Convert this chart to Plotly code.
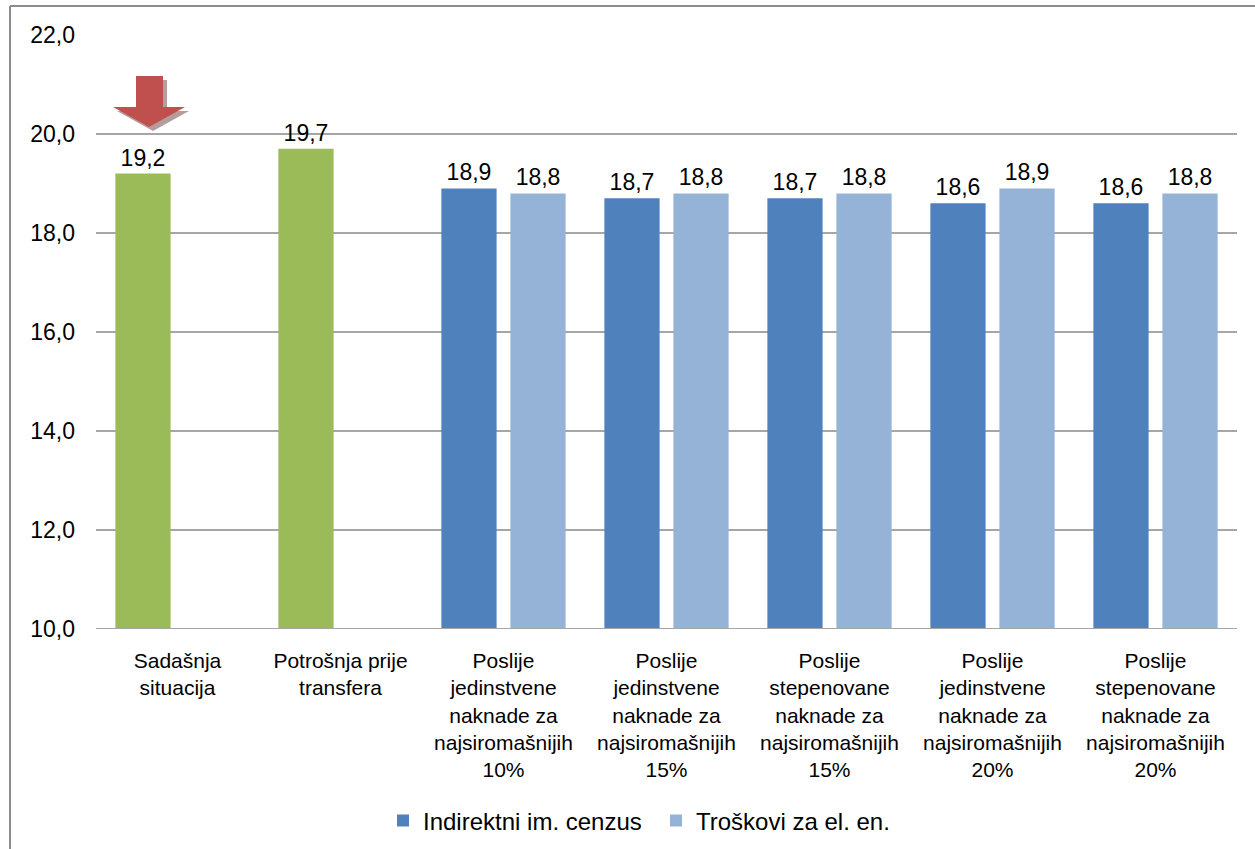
import plotly.graph_objects as go

# Chart data
categories = [
    "Sadašnja<br>situacija",
    "Potrošnja prije<br>transfera",
    "Poslije<br>jedinstvene<br>naknade za<br>najsiromašnijih<br>10%",
    "Poslije<br>jedinstvene<br>naknade za<br>najsiromašnijih<br>15%",
    "Poslije<br>stepenovane<br>naknade za<br>najsiromašnijih<br>15%",
    "Poslije<br>jedinstvene<br>naknade za<br>najsiromašnijih<br>20%",
    "Poslije<br>stepenovane<br>naknade za<br>najsiromašnijih<br>20%",
]
baseline_cats = categories[:2]
baseline_vals = [19.2, 19.7]
scenario_cats = categories[2:]
indirektni = [18.9, 18.7, 18.7, 18.6, 18.6]
troskovi = [18.8, 18.8, 18.8, 18.9, 18.8]
y_ticks = [10, 12, 14, 16, 18, 20, 22]

GREEN = "#9bbb59"
DARK_BLUE = "#4f81bd"
LIGHT_BLUE = "#95b3d7"
RED = "#c0504d"

W, H = 1255, 849
L, R, T, B = 96, 18, 35, 220
PW, PH = W - L - R, H - T - B

def px(x):
    return (x - L) / PW

def py(y):
    return (H - B - y) / PH

font = "Liberation Sans, Arial, sans-serif"
label_font = dict(size=23, color="#000000", family=font)

fig = go.Figure()
# Reference situations share the first bar slot, drawn in green
fig.add_trace(go.Bar(
    name="baseline", x=baseline_cats, y=baseline_vals, offsetgroup="a",
    marker=dict(color=GREEN, line=dict(width=0)), showlegend=False,
    texttemplate="%{y:.1f}", textposition="outside", textfont=label_font,
    cliponaxis=False,
))
fig.add_trace(go.Bar(
    name="Indirektni im. cenzus", x=scenario_cats, y=indirektni, offsetgroup="a",
    marker=dict(color=DARK_BLUE, line=dict(width=0)),
    texttemplate="%{y:.1f}", textposition="outside", textfont=label_font,
    cliponaxis=False,
))
fig.add_trace(go.Bar(
    name="Troškovi za el. en.", x=scenario_cats, y=troskovi, offsetgroup="b",
    marker=dict(color=LIGHT_BLUE, line=dict(width=0)),
    texttemplate="%{y:.1f}", textposition="outside", textfont=label_font,
    cliponaxis=False,
))

# Down arrow above the first bar (shadow, then arrow)
def arrow_path(dx, dy):
    pts = [(136, 76), (163, 76), (163, 107), (185, 107), (149, 127),
           (113, 107), (136, 107)]
    return "M " + " L ".join(f"{px(x + dx):.5f},{py(y + dy):.5f}" for x, y in pts) + " Z"

shapes = [
    dict(type="path", xref="paper", yref="paper", path=arrow_path(4, 4),
         fillcolor="rgba(150,115,115,0.7)", line=dict(width=0), layer="above"),
    dict(type="path", xref="paper", yref="paper", path=arrow_path(0, 0),
         fillcolor=RED, line=dict(width=0), layer="above"),
    # outer chart frame
    dict(type="line", xref="paper", yref="paper", x0=px(10), x1=px(10),
         y0=py(6), y1=py(860), line=dict(color="#8c8c8c", width=2)),
    dict(type="line", xref="paper", yref="paper", x0=px(10), x1=px(1270),
         y0=py(6), y1=py(6), line=dict(color="#8c8c8c", width=2)),
    # baseline at 10,0
    dict(type="line", xref="paper", yref="y", x0=0, x1=1, y0=10, y1=10,
         line=dict(color="#a6a6a6", width=2)),
]

fig.update_layout(
    width=W, height=H,
    margin=dict(l=L, r=R, t=T, b=B, autoexpand=False),
    paper_bgcolor="white", plot_bgcolor="white",
    separators=",.",
    barmode="group", bargap=0.153, bargroupgap=0.2,
    font=dict(family=font, size=21, color="#000000"),
    shapes=shapes,
    showlegend=True,
    legend=dict(orientation="h", x=px(383), xanchor="left", y=py(821), yanchor="middle",
                font=dict(size=24, family=font), traceorder="normal",
                entrywidth=228, entrywidthmode="pixels"),
    xaxis=dict(showgrid=False, showline=False, ticks="", tickangle=0,
               ticklabelstandoff=17, automargin=False,
               categoryorder="array", categoryarray=categories,
               tickfont=dict(size=21, family=font)),
    yaxis=dict(range=[10, 22], tickvals=y_ticks, tickformat=".1f",
               showgrid=True, gridcolor="#a6a6a6", gridwidth=1.5,
               zeroline=False, showline=False, ticks="",
               ticklabelstandoff=20, automargin=False,
               tickfont=dict(size=23, family=font)),
)

fig.write_html("out.html")
